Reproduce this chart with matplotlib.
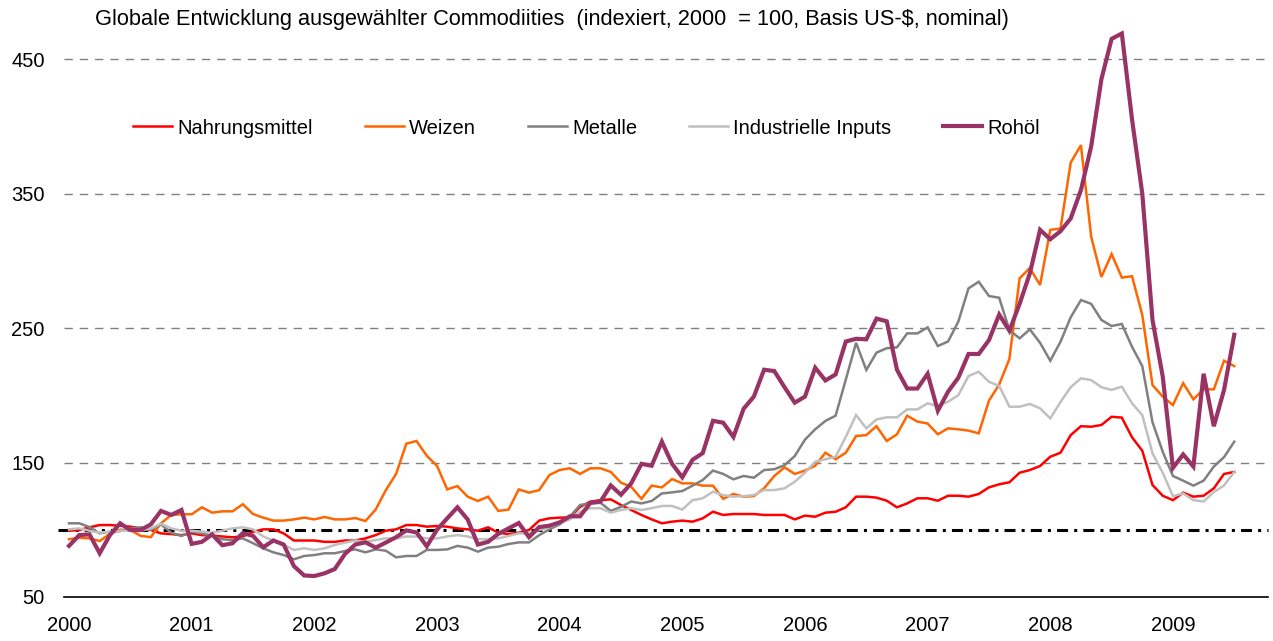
import numpy as np
import matplotlib
matplotlib.use('Agg')
from matplotlib import pyplot as plt

plt.rcParams['font.family'] = ['Liberation Sans', 'DejaVu Sans']

# monthly index values, Jan 2000 - Jul 2009 (2000 = 100)
nahrungsmittel = [
    99.3, 99.8, 101.8, 103.5, 103.5, 103, 102.3, 101, 99.8, 97.3, 96.8, 96,
    97.3, 96, 95.6, 95, 94.4, 95, 98.5, 100.3, 100.3, 97.3, 92, 92,
    92, 91, 91, 92, 92, 93.6, 96, 99.3, 100.3, 103.5, 103.5, 102.3,
    102.8, 102.3, 101, 100.3, 99.3, 101.8, 97.8, 96.8, 97.8, 99.8, 106.8, 108.5,
    109, 109.2, 117, 120.9, 122, 122.6, 118.4, 114.7, 111, 107.7, 104.8, 106,
    106.8, 106, 108.5, 113.4, 111, 111.7, 111.7, 111.7, 111, 111, 111, 107.7,
    110.5, 109.7, 112.7, 113.4, 116.7, 124.6, 124.6, 123.9, 121.6, 116.7, 119.6, 123.4,
    123.4, 121.6, 125.3, 125.3, 124.6, 126.6, 131.5, 133.8, 135.3, 142.4, 144.4, 147.4,
    154.3, 157.3, 170.4, 177, 176.6, 177.9, 184, 183.4, 168.7, 158.8, 133.3, 125.3,
    122, 127.6, 124.6, 125.3, 130.8, 141.5, 143,
]
weizen = [
    93, 94, 93.6, 91.6, 97, 100, 99.8, 95.5, 94.5, 104.8, 111, 111.5,
    111.5, 116.7, 112.7, 113.7, 113.7, 119, 111.7, 109, 106.8, 106.8, 107.7, 109,
    107.7, 109.5, 107.7, 107.7, 108.7, 106.5, 115, 129.5, 141.5, 164, 166, 155,
    147.6, 130, 132.5, 124.6, 121.4, 124.6, 114, 115, 130, 127.6, 129.5, 140.7,
    144.4, 145.7, 141.5, 145.7, 145.7, 143, 135, 132, 123, 132.8, 131.5, 137.7,
    134.5, 134.5, 132.8, 132.8, 123, 126.6, 124.6, 125, 130.8, 140, 146.4, 141.5,
    144, 147.6, 157.3, 152.4, 157.3, 169.7, 170.4, 177, 166, 171, 184.8, 180.4,
    179, 171, 175.4, 174.7, 173.7, 171.7, 196, 208, 227, 287, 294.6, 282,
    323, 324, 373, 386, 318, 288, 305, 287.5, 288.5, 259.7, 207.6, 199,
    192.7, 209, 197, 204.4, 204.4, 225.7, 221.7,
]
metalle = [
    104.8, 104.8, 102, 97.3, 98.6, 99, 101, 101.8, 100, 104, 97.8, 95.4,
    98.6, 97.3, 95.4, 92.9, 92.4, 93.6, 90, 86.2, 83.2, 81.2, 78, 80.5,
    81.2, 82.5, 82.5, 84.2, 85.4, 83.2, 85.4, 84.4, 79.5, 80.5, 80.5, 85,
    85, 85.4, 88, 86.7, 83.7, 86.7, 87.4, 89.4, 90.6, 90.6, 96, 100.3,
    104, 109.7, 118.4, 119.6, 120, 114, 117, 121, 119.6, 121.4, 127, 127.8,
    128.8, 132.8, 137, 144, 141.5, 137.5, 140, 138.7, 144.4, 145, 148, 154.8,
    167, 174.7, 180.9, 184.8, 211.8, 239, 218.8, 231.7, 235, 235.6, 246, 246,
    250.5, 236.6, 240, 254.7, 279.5, 284.4, 273.8, 272.5, 248.5, 242.3, 249, 239,
    225.7, 239.8, 258, 270.8, 268, 256, 251.5, 253, 236, 221.7, 180, 158,
    140, 136.5, 132.8, 136.5, 147, 154, 165.5,
]
industrie = [
    100.3, 101, 99.3, 97.8, 98.6, 99.3, 99.3, 99.3, 101, 104.5, 101, 99.3,
    99.3, 98.6, 97.8, 99.3, 101, 101.8, 100.3, 95, 92, 89, 85, 86.2,
    85, 86.2, 88.7, 90.4, 92, 91, 92.4, 93.6, 93.6, 95, 95, 93.6,
    93.6, 95, 96, 95, 93, 93, 93.6, 95.4, 97.3, 97.3, 99.8, 102,
    104.8, 107.7, 113.4, 116, 116, 112.7, 114.7, 116, 114.7, 116, 117.7, 117.7,
    115, 122, 123.4, 128.3, 125.8, 124.6, 125, 125.8, 129.5, 129.5, 130.8, 135.7,
    142.4, 150.6, 152.4, 154.3, 169.2, 185.3, 175.4, 182, 183.6, 183.6, 189.5, 189.5,
    194, 192, 195.2, 200, 214.3, 217.5, 210, 207, 191.5, 191.5, 193.5, 190.3,
    182.8, 195, 206, 212.6, 211.3, 206, 204, 206.4, 194, 185.3, 156.8, 142.4,
    125, 127, 122, 121, 128, 133, 143,
]
rohoel = [
    88, 96, 96.6, 82.5, 96, 104.8, 99.8, 99.8, 104, 114, 111, 114.7,
    89.5, 91, 96.5, 88.5, 90, 97.5, 95.5, 87, 92, 89, 73, 66,
    65.6, 67.6, 70.8, 82, 89, 90.7, 86.7, 90.5, 94.5, 99.5, 98, 87.7,
    100, 108.5, 116.7, 107.7, 89, 91, 97, 101, 105, 94.5, 102, 103,
    105.5, 110, 110, 120, 121, 133, 126, 134.5, 149, 147.6, 165.5, 149,
    139, 152, 157, 181, 179.6, 169, 190, 199, 219, 218, 206, 194.5,
    199, 220.5, 211, 215.5, 240, 242, 241.6, 257, 255, 219, 205, 205,
    216, 188.5, 202.7, 213, 230.7, 230.7, 241, 260, 248, 268, 290.6, 323,
    316, 322, 331.5, 352.6, 385, 435, 465, 469, 405, 350, 256, 214,
    146, 156, 147, 216, 177, 204, 245,
]

years = [str(y) for y in range(2000, 2010)]
y_ticks = [50, 150, 250, 350, 450]

series = [
    ('Nahrungsmittel', nahrungsmittel, '#ff0000', 1.8),
    ('Weizen', weizen, '#ff6600', 1.8),
    ('Metalle', metalle, '#808080', 1.8),
    ('Industrielle Inputs', industrie, '#c0c0c0', 1.8),
    ('Rohöl', rohoel, '#993366', 3.0),
]

months = np.arange(len(rohoel))

fig = plt.figure(figsize=(12.73, 6.41), dpi=100)
ax = fig.add_axes([64 / 1273, 44 / 641, 1204 / 1273, 578.3 / 641])

for name, vals, col, lw in series:
    ax.plot(months, vals, color=col, lw=lw, label=name, solid_joinstyle='miter')

# reference line at index 100
ax.plot([-1.1, 117.3], [100, 100], color='black', lw=2.2,
        dashes=(3.6, 2.0, 1.0, 2.0), clip_on=False, zorder=1)

ax.set_xlim(-0.49, 117.3)
ax.set_ylim(50, 480)
ax.set_yticks(y_ticks)
ax.set_xticks(np.arange(0, 120, 12))
ax.set_xticklabels(years)
ax.tick_params(length=0, labelsize=14.5, pad=14)

for v in y_ticks[1:]:
    ax.axhline(v, color='#808080', lw=1.0, dashes=(6, 5), zorder=0)

for s in ['top', 'right', 'left']:
    ax.spines[s].set_visible(False)
ax.spines['bottom'].set_color('black')
ax.spines['bottom'].set_linewidth(1.2)

ax.legend(loc='center left', bbox_to_anchor=(133 / 1273, 1 - 128 / 641),
          bbox_transform=fig.transFigure, ncol=5, frameon=False,
          fontsize=14.5, handlelength=1.96, handletextpad=0.26,
          columnspacing=2.55, borderpad=0, borderaxespad=0)

fig.text(95 / 1273, 1 - 20 / 641,
         'Globale Entwicklung ausgewählter Commodiities  (indexiert, 2000  = 100, Basis US-$, nominal)',
         ha='left', va='center', fontsize=15.7)

fig.savefig('out.png', dpi=100)
